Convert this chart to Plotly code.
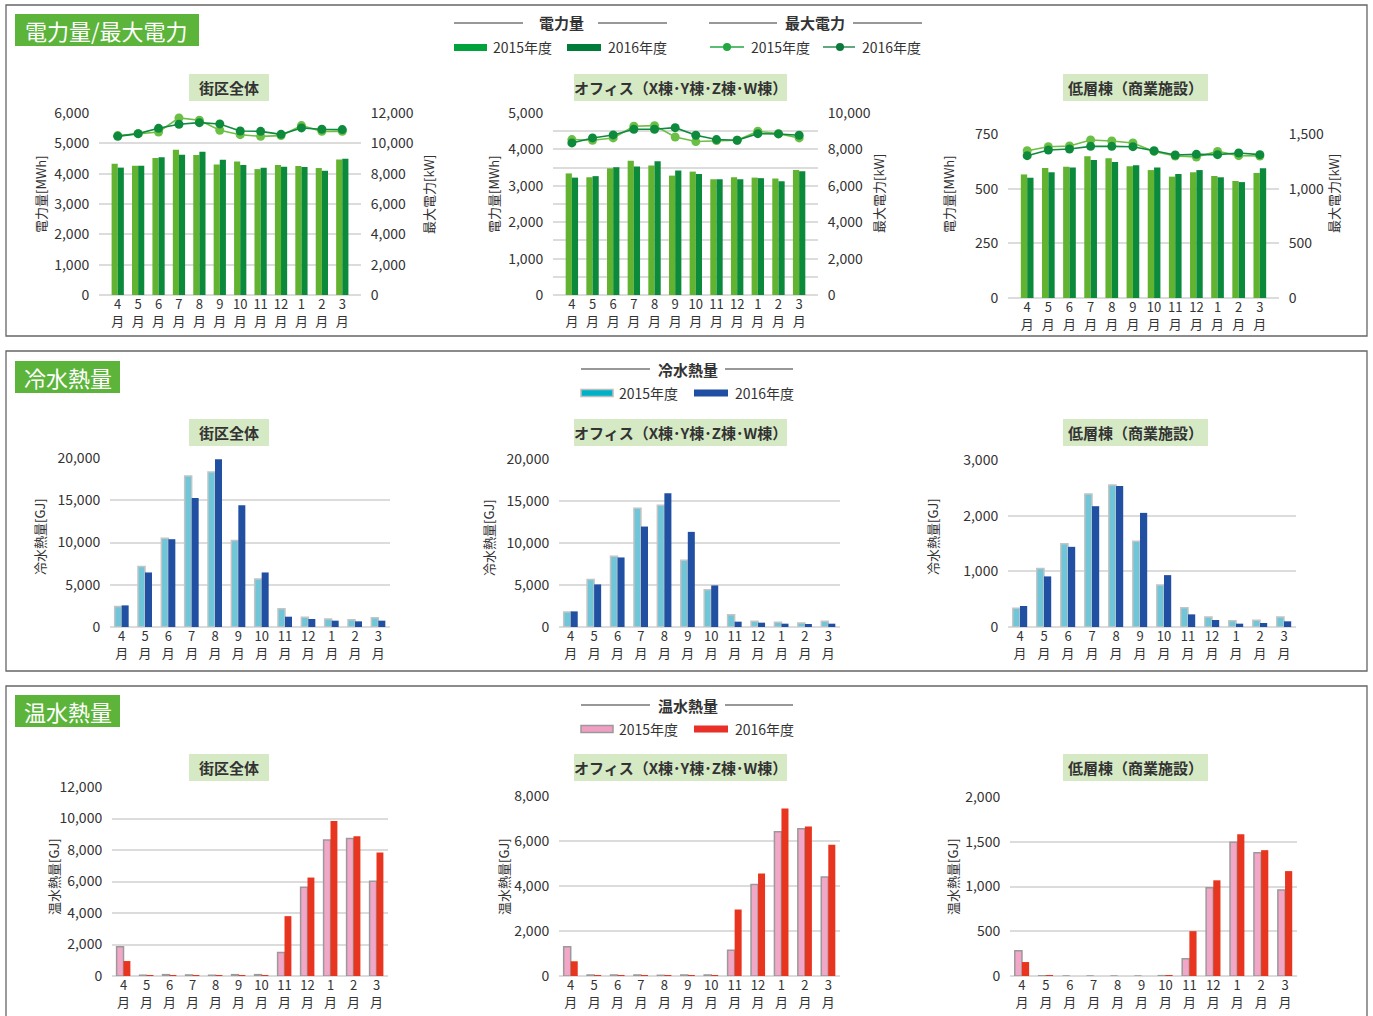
import plotly.graph_objects as go

# ---------------- data ----------------
months = ["4", "5", "6", "7", "8", "9", "10", "11", "12", "1", "2", "3"]
x_labels = [m + "<br>月" for m in months]

elec_all_2015 = [4330, 4260, 4515, 4790, 4615, 4305, 4405, 4150, 4285, 4250, 4185, 4470]
elec_all_2016 = [4200, 4260, 4540, 4625, 4725, 4460, 4285, 4195, 4230, 4220, 4095, 4495]
peak_all_2015 = [10510, 10640, 10750, 11675, 11520, 10860, 10570, 10460, 10510, 11170, 10790, 10790]
peak_all_2016 = [10460, 10640, 10990, 11255, 11365, 11280, 10815, 10790, 10595, 11015, 10925, 10905]

elec_office_2015 = [3340, 3235, 3480, 3685, 3555, 3280, 3390, 3180, 3235, 3225, 3200, 3435]
elec_office_2016 = [3225, 3265, 3510, 3530, 3675, 3420, 3325, 3180, 3180, 3210, 3125, 3400]
peak_office_2015 = [8540, 8500, 8630, 9270, 9305, 8680, 8430, 8485, 8500, 8995, 8865, 8630]
peak_office_2016 = [8355, 8630, 8795, 9105, 9105, 9195, 8775, 8540, 8500, 8865, 8850, 8775]

elec_low_2015 = [565, 594, 600, 648, 639, 602, 585, 555, 575, 558, 535, 572]
elec_low_2016 = [550, 575, 597, 631, 622, 607, 597, 567, 585, 552, 530, 593]
peak_low_2015 = [1347, 1384, 1390, 1445, 1436, 1418, 1341, 1299, 1290, 1341, 1302, 1299]
peak_low_2016 = [1302, 1354, 1363, 1387, 1387, 1384, 1347, 1308, 1314, 1311, 1326, 1311]

cold_all_2015 = [2440, 7165, 10510, 17870, 18350, 10240, 5670, 2165, 1140, 945, 865, 1100]
cold_all_2016 = [2560, 6455, 10390, 15275, 19840, 14410, 6455, 1220, 945, 750, 670, 750]
cold_office_2015 = [1780, 5660, 8435, 14140, 14495, 7960, 4435, 1465, 675, 555, 475, 675]
cold_office_2016 = [1860, 5070, 8280, 11960, 15920, 11325, 4950, 635, 515, 395, 355, 395]
cold_low_2015 = [335, 1052, 1494, 2390, 2552, 1542, 753, 347, 179, 114, 120, 179]
cold_low_2016 = [377, 909, 1440, 2170, 2534, 2050, 932, 227, 126, 60, 72, 102]

hot_all_2015 = [1860, 50, 85, 65, 45, 85, 85, 1500, 5640, 8640, 8725, 6020]
hot_all_2016 = [950, 20, 40, 40, 40, 40, 20, 3800, 6250, 9845, 8870, 7840]
hot_office_2015 = [1305, 45, 45, 45, 30, 45, 45, 1140, 4065, 6410, 6545, 4405]
hot_office_2016 = [655, 30, 15, 15, 15, 15, 30, 2955, 4555, 7450, 6645, 5830]
hot_low_2015 = [282, 3, 0, 0, 0, 0, 4, 193, 987, 1495, 1377, 961]
hot_low_2016 = [156, 3, 0, 0, 0, 0, 3, 501, 1069, 1584, 1406, 1172]

panel_titles = ["街区全体", "オフィス（X棟･Y棟･Z棟･W棟）", "低層棟（商業施設）"]
section_titles = ["電力量/最大電力", "冷水熱量", "温水熱量"]
series_names = ["2015年度", "2016年度"]

# ---------------- styling ----------------
W, H = 1373, 1016
FONT = "Noto Sans CJK JP, Noto Sans, sans-serif"
TXT = "#333333"
GRID = "#dcdcdc"

C_E15, C_E16 = "#62b330", "#0b8a3b"
C_L15, C_L16 = "#6cbf45", "#0e8a3c"
C_C15, C_C16 = "#6fc6d8", "#2150a2"
C_H15, C_H16 = "#f2a7c8", "#e8351f"


def X(px):
    return px / W


def Y(py):
    return 1 - py / H


# panel geometry in px: (x0, x1, ytop, ybottom)
geo = [
    (99, 361, 113, 295), (553, 818, 113, 295), (1008, 1279, 134, 298),
    (110, 390, 458, 627), (559, 840, 459, 627), (1008, 1296, 460, 627),
    (112, 388, 787, 976), (559, 840, 796, 976), (1010, 1297, 797, 976),
]

fig = go.Figure()
layout = {}

tickfont = dict(family=FONT, size=14, color=TXT)
xtickfont = dict(family=FONT, size=13, color=TXT)

left_ranges = [6000, 5000, 750, 20000, 20000, 3000, 12000, 8000, 2000]
left_dticks = [1000, 1000, 250, 5000, 5000, 1000, 2000, 2000, 500]
right_ranges = [12000, 10000, 1500]
right_dticks = [2000, 2000, 500]

for i, (x0, x1, yt, yb) in enumerate(geo):
    n = i + 1
    sx = "" if n == 1 else str(n)
    layout["xaxis" + sx] = dict(
        domain=[X(x0), X(x1)], anchor="y" + sx, type="category",
        showgrid=False, showline=False, ticks="", tickfont=xtickfont,
        fixedrange=True, automargin=False,
    )
    yax = dict(
        domain=[Y(yb), Y(yt)], anchor="x" + sx, range=[0, left_ranges[i]],
        dtick=left_dticks[i], tickformat=",", showgrid=True, gridcolor=GRID,
        gridwidth=1.5, zeroline=True, zerolinecolor=GRID, zerolinewidth=1.5,
        showline=False, ticks="outside", ticklen=6, tickcolor="rgba(0,0,0,0)",
        tickfont=tickfont, fixedrange=True, automargin=False,
    )
    if n == 2:
        yax["minor"] = dict(dtick=500, showgrid=True, gridcolor=GRID, gridwidth=1.5)
    layout["yaxis" + sx] = yax

for j in range(3):
    n = 10 + j
    base = "" if j == 0 else str(j + 1)
    layout["yaxis" + str(n)] = dict(
        overlaying="y" + base, anchor="x" + base, side="right",
        range=[0, right_ranges[j]], dtick=right_dticks[j], tickformat=",",
        showgrid=False, zeroline=False, showline=False, ticks="outside",
        ticklen=6, tickcolor="rgba(0,0,0,0)", tickfont=tickfont, fixedrange=True,
        automargin=False,
    )

elec = [(elec_all_2015, elec_all_2016), (elec_office_2015, elec_office_2016), (elec_low_2015, elec_low_2016)]
peak = [(peak_all_2015, peak_all_2016), (peak_office_2015, peak_office_2016), (peak_low_2015, peak_low_2016)]
cold = [(cold_all_2015, cold_all_2016), (cold_office_2015, cold_office_2016), (cold_low_2015, cold_low_2016)]
hot = [(hot_all_2015, hot_all_2016), (hot_office_2015, hot_office_2016), (hot_low_2015, hot_low_2016)]


def axn(n):
    return "" if n == 1 else str(n)

# electricity bars + peak lines
for j in range(3):
    n = j + 1
    a, b = elec[j]
    fig.add_trace(go.Bar(x=x_labels, y=a, name=series_names[0], marker=dict(color=C_E15, line=dict(width=0)),
                         xaxis="x" + axn(n), yaxis="y" + axn(n), offsetgroup="a"))
    fig.add_trace(go.Bar(x=x_labels, y=b, name=series_names[1], marker=dict(color=C_E16, line=dict(width=0)),
                         xaxis="x" + axn(n), yaxis="y" + axn(n), offsetgroup="b"))
for j in range(3):
    n = j + 1
    a, b = peak[j]
    fig.add_trace(go.Scatter(x=x_labels, y=a, mode="lines+markers", name=series_names[0],
                             line=dict(color=C_L15, width=1.6), marker=dict(color=C_L15, size=9),
                             xaxis="x" + axn(n), yaxis="y" + str(10 + j)))
    fig.add_trace(go.Scatter(x=x_labels, y=b, mode="lines+markers", name=series_names[1],
                             line=dict(color=C_L16, width=1.6), marker=dict(color=C_L16, size=9),
                             xaxis="x" + axn(n), yaxis="y" + str(10 + j)))

# cold water
for j in range(3):
    n = 4 + j
    a, b = cold[j]
    fig.add_trace(go.Bar(x=x_labels, y=a, name=series_names[0],
                         marker=dict(color=C_C15, line=dict(color="#c4c4c4", width=1.5)),
                         xaxis="x" + axn(n), yaxis="y" + axn(n), offsetgroup="a"))
    fig.add_trace(go.Bar(x=x_labels, y=b, name=series_names[1],
                         marker=dict(color=C_C16, line=dict(width=0)),
                         xaxis="x" + axn(n), yaxis="y" + axn(n), offsetgroup="b"))

# hot water
for j in range(3):
    n = 7 + j
    a, b = hot[j]
    fig.add_trace(go.Bar(x=x_labels, y=a, name=series_names[0],
                         marker=dict(color=C_H15, line=dict(color="#9a9a9a", width=1.5)),
                         xaxis="x" + axn(n), yaxis="y" + axn(n), offsetgroup="a"))
    fig.add_trace(go.Bar(x=x_labels, y=b, name=series_names[1],
                         marker=dict(color=C_H16, line=dict(width=0)),
                         xaxis="x" + axn(n), yaxis="y" + axn(n), offsetgroup="b"))

shapes = []
annotations = []


def rect(x0, y0, x1, y1, fill=None, line=None, lw=0):
    shapes.append(dict(type="rect", xref="paper", yref="paper",
                       x0=X(x0), x1=X(x1), y0=Y(y1), y1=Y(y0),
                       fillcolor=fill if fill else "rgba(0,0,0,0)",
                       line=dict(color=line if line else "rgba(0,0,0,0)", width=lw), layer="below"))


def hline(x0, x1, y, color="#333333", w=1.2):
    shapes.append(dict(type="line", xref="paper", yref="paper", x0=X(x0), x1=X(x1),
                       y0=Y(y), y1=Y(y), line=dict(color=color, width=w)))


def text(x, y, s, size=14, color=TXT, xanchor="center", angle=0, bold=False):
    if bold:
        s = "<b>" + s + "</b>"
    annotations.append(dict(x=X(x), y=Y(y), xref="paper", yref="paper", text=s, showarrow=False,
                            xanchor=xanchor, yanchor="middle", textangle=angle,
                            font=dict(family=FONT, size=size, color=color)))

# section frames
rect(6, 5, 1367, 336, line="#666666", lw=1.3)
rect(6, 351, 1367, 671, line="#666666", lw=1.3)
rect(6, 686, 1367, 1030, line="#666666", lw=1.3)

# section badges
BADGE = "#5cb43a"
rect(15, 14, 199, 46, fill=BADGE)
text(107, 30, section_titles[0], size=22, color="white")
rect(15, 361, 120, 393, fill=BADGE)
text(67.5, 377, section_titles[1], size=22, color="white")
rect(15, 695, 120, 727, fill=BADGE)
text(67.5, 711, section_titles[2], size=22, color="white")

# panel subtitle boxes
SUB = "#d5e9c4"
sub_x = [(189, 269), (574, 787), (1063, 1208)]
for yt in [74, 419, 754]:
    for k, (a, b) in enumerate(sub_x):
        rect(a, yt, b, yt + 27, fill=SUB)
        text((a + b) / 2, yt + 13.5, panel_titles[k], size=15, bold=True)

# axis titles
for k, (xl, xr) in enumerate([(40, 428), (493, 878), (948, 1333)]):
    text(xl, 194, "電力量[MWh]", size=13, angle=-90)
    text(xr, 194, "最大電力[kW]", size=13, angle=-90)
for xl in [39, 488, 932]:
    text(xl, 537, "冷水熱量[GJ]", size=13, angle=-90)
for xl in [53, 503, 952]:
    text(xl, 877, "温水熱量[GJ]", size=13, angle=-90)

# legend: electricity
hline(454, 523, 23)
hline(598, 667, 23)
text(561, 23, "電力量", size=15, bold=True)
hline(709, 777, 23)
hline(853, 922, 23)
text(815, 23, "最大電力", size=15, bold=True)
rect(454, 44, 487, 51, fill="#00a23c")
text(491, 47, series_names[0], size=14, xanchor="left")
rect(567, 44, 601, 51, fill="#007c3a")
text(606, 47, series_names[1], size=14, xanchor="left")
hline(710, 744, 47, color="#22a843", w=1.3)
hline(823, 855, 47, color="#0a7a3a", w=1.3)
shapes.append(dict(type="circle", xref="paper", yref="paper", x0=X(723), x1=X(731), y0=Y(51), y1=Y(43),
                   fillcolor="#22a843", line=dict(width=0)))
shapes.append(dict(type="circle", xref="paper", yref="paper", x0=X(836), x1=X(844), y0=Y(51), y1=Y(43),
                   fillcolor="#0a7a3a", line=dict(width=0)))
text(749, 47, series_names[0], size=14, xanchor="left")
text(860, 47, series_names[1], size=14, xanchor="left")

# legend: cold / hot
for yh, yi, head, c1, c1l, c2 in [(369, 393, "冷水熱量", "#00b2c8", "#bdbdbd", "#1f4fa3"),
                                  (705, 729, "温水熱量", "#f19ec2", "#9a9a9a", "#e83028")]:
    hline(581, 650, yh)
    hline(725, 793, yh)
    text(688, yh, head, size=15, bold=True)
    rect(581, yi - 3.5, 613, yi + 3.5, fill=c1, line=c1l, lw=1.5)
    text(617, yi, series_names[0], size=14, xanchor="left")
    rect(694, yi - 3.5, 728, yi + 3.5, fill=c2)
    text(733, yi, series_names[1], size=14, xanchor="left")

layout.update(dict(
    width=W, height=H, margin=dict(l=0, r=0, t=0, b=0, autoexpand=False),
    paper_bgcolor="white", plot_bgcolor="white", showlegend=False,
    barmode="group", bargap=0.4, bargroupgap=0.0,
    font=dict(family=FONT, color=TXT),
    shapes=shapes, annotations=annotations,
))
fig.update_layout(**layout)

fig.write_html("out.html")
